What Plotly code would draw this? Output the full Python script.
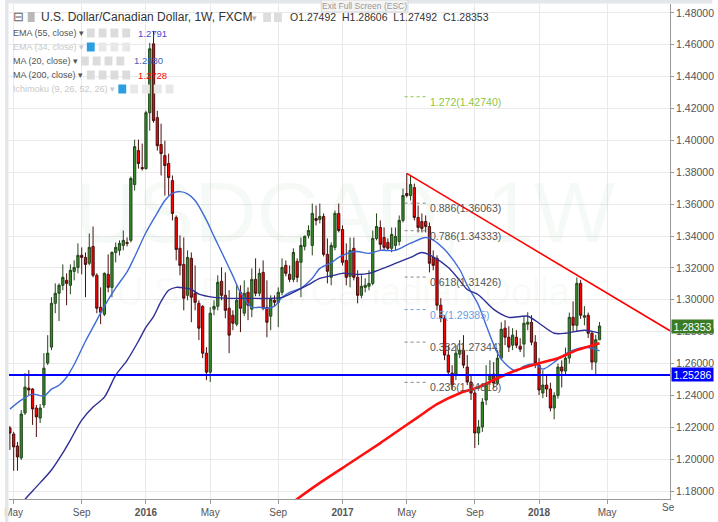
import plotly.graph_objects as go
import pandas as pd

# ---------------- data ----------------
FIRST_WEEK = "2015-04-27"

OPEN = [1.2196,1.2158,1.2083,1.2008,1.2290,1.2446,1.2440,1.2321,1.2258,1.2340,
        1.2603,1.2703,1.2978,1.3041,1.3091,1.3122,1.3091,1.3178,1.3203,1.3279,
        1.3266,1.3229,1.3335,1.3154,1.2953,1.2909,1.3160,1.3078,1.3297,1.3310,
        1.3341,1.3360,1.3373,1.3723,1.3936,1.3830,1.3823,1.4174,1.4606,1.4143,
        1.3974,1.3905,1.3855,1.3748,1.3517,1.3323,1.3222,1.3028,1.3260,1.3041,
        1.2978,1.2959,1.2665,1.2546,1.2941,1.2959,1.3116,1.3028,1.2947,1.2903,
        1.2847,1.3047,1.2916,1.3047,1.2941,1.3128,1.3041,1.3172,1.2953,1.2897,
        1.2997,1.2984,1.3047,1.3216,1.3160,1.3128,1.3241,1.3235,1.3335,1.3404,
        1.3341,1.3510,1.3504,1.3523,1.3285,1.3141,1.3329,1.3542,1.3441,1.3247,
        1.3147,1.3323,1.3141,1.3028,1.3078,1.3085,1.3103,1.3385,1.3454,1.3391,
        1.3360,1.3323,1.3341,1.3366,1.3498,1.3667,1.3654,1.3704,1.3517,1.3491,
        1.3491,1.3460,1.3266,1.3260,1.2966,1.2884,1.2653,1.2540,1.2528,1.2659,
        1.2684,1.2578,1.2484,1.2415,1.2164,1.2202,1.2371,1.2496,1.2534,1.2477,
        1.2634,1.2822,1.2765,1.2715,1.2765,1.2709,1.2722,1.2847,1.2859,1.2734,
        1.2590,1.2415,1.2465,1.2440,1.2321,1.2400,1.2578,1.2553,1.2634,1.2890,
        1.2840,1.3103,1.2890,1.2903,1.2790,1.2609,1.27492]

HIGH = [1.2208,1.2171,1.2108,1.2308,1.2540,1.2559,1.2446,1.2340,1.2346,1.2665,
        1.2778,1.3016,1.3103,1.3103,1.3222,1.3166,1.3222,1.3247,1.3354,1.3329,
        1.3297,1.3416,1.3460,1.3166,1.3078,1.3172,1.3285,1.3304,1.3360,1.3373,
        1.3435,1.3391,1.3773,1.4005,1.4005,1.3980,1.4186,1.4612,1.4687,1.4186,
        1.4105,1.3999,1.3917,1.3780,1.3529,1.3404,1.3391,1.3310,1.3297,1.3216,
        1.2997,1.2966,1.2703,1.2953,1.2997,1.3154,1.3204,1.3172,1.3060,1.2934,
        1.3091,1.3091,1.3122,1.3078,1.3197,1.3260,1.3197,1.3247,1.3122,1.3028,
        1.3028,1.3078,1.3260,1.3247,1.3216,1.3323,1.3260,1.3391,1.3404,1.3467,
        1.3604,1.3592,1.3604,1.3542,1.3385,1.3360,1.3560,1.3604,1.3467,1.3354,
        1.3391,1.3391,1.3185,1.3154,1.3135,1.3185,1.3435,1.3542,1.3498,1.3454,
        1.3385,1.3454,1.3454,1.3529,1.3698,1.3793,1.3780,1.3729,1.3592,1.3542,
        1.3529,1.3485,1.3310,1.3279,1.3010,1.2903,1.2715,1.2590,1.2715,1.2747,
        1.2778,1.2653,1.2528,1.2434,1.2246,1.2383,1.2590,1.2621,1.2609,1.2684,
        1.2859,1.2872,1.2834,1.2822,1.2809,1.2759,1.2897,1.2922,1.2903,1.2778,
        1.2634,1.2559,1.2530,1.2480,1.2420,1.2600,1.2620,1.2700,1.2920,1.2990,
        1.3140,1.3125,1.2960,1.2920,1.2800,1.2780,1.28606]

LOW = [1.2058,1.1927,1.1927,1.1995,1.2277,1.2402,1.2215,1.2139,1.2227,1.2321,
       1.2590,1.2684,1.2916,1.2866,1.3060,1.2966,1.3035,1.3122,1.3166,1.3160,
       1.3016,1.3216,1.3141,1.2916,1.2847,1.2897,1.3047,1.3016,1.3235,1.3279,
       1.3310,1.3335,1.3360,1.3686,1.3823,1.3811,1.3817,1.4061,1.4111,1.3936,
       1.3780,1.3654,1.3654,1.3498,1.3247,1.3154,1.2934,1.2997,1.2859,1.2934,
       1.2747,1.2634,1.2496,1.2484,1.2903,1.2934,1.2997,1.2884,1.2665,1.2809,
       1.2834,1.2797,1.2897,1.2872,1.2891,1.3022,1.3022,1.2934,1.2765,1.2809,
       1.2959,1.2828,1.3028,1.3147,1.3110,1.3110,1.3110,1.3016,1.3310,1.3385,
       1.3279,1.3467,1.3479,1.3272,1.3103,1.3091,1.3310,1.3423,1.3216,1.3091,
       1.3078,1.3122,1.2978,1.3010,1.3047,1.3060,1.3091,1.3373,1.3310,1.3310,
       1.3310,1.3298,1.3310,1.3341,1.3485,1.3642,1.3623,1.3498,1.3423,1.3423,
       1.3423,1.3172,1.3185,1.2934,1.2859,1.2621,1.2528,1.2434,1.2496,1.2634,
       1.2571,1.2465,1.2371,1.2070,1.2089,1.2171,1.2340,1.2465,1.2446,1.2465,
       1.2621,1.2715,1.2672,1.2684,1.2697,1.2672,1.2640,1.2809,1.2715,1.2571,
       1.2402,1.2383,1.2390,1.2300,1.2250,1.2380,1.2450,1.2530,1.2600,1.2800,
       1.2800,1.2880,1.2840,1.2760,1.2560,1.2529,1.27492]

CLOSE = [1.2164,1.2077,1.2014,1.2283,1.2452,1.2434,1.2315,1.2265,1.2321,1.2571,
         1.2665,1.2978,1.3041,1.3091,1.3141,1.3103,1.3185,1.3203,1.3279,1.3266,
         1.3222,1.3329,1.3154,1.2947,1.2922,1.3166,1.3078,1.3297,1.3329,1.3354,
         1.3373,1.3354,1.3761,1.3961,1.3855,1.3823,1.4174,1.4575,1.4124,1.3967,
         1.3917,1.3842,1.3767,1.3542,1.3316,1.3216,1.3010,1.3266,1.3016,1.2984,
         1.2822,1.2665,1.2546,1.2916,1.2959,1.3110,1.3028,1.2934,1.2778,1.2853,
         1.2997,1.2947,1.3041,1.2966,1.3128,1.3041,1.3166,1.2947,1.2859,1.3003,
         1.2984,1.3047,1.3203,1.3166,1.3128,1.3297,1.3141,1.3341,1.3398,1.3435,
         1.3542,1.3498,1.3523,1.3285,1.3179,1.3341,1.3542,1.3435,1.3235,1.3141,
         1.3310,1.3141,1.3028,1.3085,1.3091,1.3103,1.3385,1.3460,1.3348,1.3329,
         1.3323,1.3410,1.3398,1.3498,1.3654,1.3654,1.3723,1.3517,1.3454,1.3448,
         1.3460,1.3229,1.3216,1.2966,1.2884,1.2653,1.2546,1.2465,1.2665,1.2684,
         1.2590,1.2484,1.2415,1.2164,1.2202,1.2358,1.2477,1.2528,1.2477,1.2634,
         1.2815,1.2765,1.2703,1.2778,1.2715,1.2690,1.2853,1.2859,1.2734,1.2603,
         1.2434,1.2465,1.2440,1.2321,1.2400,1.2578,1.2553,1.2634,1.2890,1.2840,
         1.3103,1.2903,1.2900,1.2790,1.2609,1.27492,1.28353]

# moving averages, sampled at week numbers (0 = first candle)
MA20_WEEK = [0,3,6,9,11,13,15,17,20,22,25,28,31,33,36,39,41,43,45,47,49,52,54,56,59,61,
             64,66,68,70,72,74,77,80,82,85,87,90,92,95,98,102,106,110,112,115,119,121,
             124,126,129,131,134,136,139,141,144,146,149,152,154,156]
MA20_VAL = [1.2314,1.2370,1.2408,1.2396,1.2439,1.2464,1.2514,1.2594,1.2740,1.2828,1.2960,
            1.3075,1.3175,1.3270,1.3422,1.3545,1.3623,1.3668,1.3679,1.3665,1.3623,1.3500,
            1.3398,1.3300,1.3150,1.3045,1.2953,1.2953,1.2947,1.2960,1.3015,1.3047,1.3073,
            1.3135,1.3197,1.3232,1.3266,1.3297,1.3303,1.3291,1.3310,1.3310,1.3355,1.3391,
            1.3375,1.3315,1.3190,1.3091,1.2965,1.2840,1.2665,1.2600,1.2552,1.2583,1.2596,
            1.2565,1.2608,1.2646,1.2684,1.2702,1.2696,1.2680]

EMA55_WEEK = [3,5,7,11,14,16,19,22,25,28,31,34,36,38,40,42,44,46,48,50,54,58,63,69,72,75,
              79,82,86,88,92,95,98,102,106,109,112,116,119,121,124,128,132,137,140,144,
              147,152,156]
EMA55_VAL = [1.1720,1.1775,1.1826,1.1932,1.2039,1.2120,1.2245,1.2327,1.2389,1.2527,1.2620,
             1.2740,1.2828,1.2895,1.2990,1.3060,1.3078,1.3075,1.3065,1.3035,1.3015,1.3009,
             1.3009,1.3009,1.3015,1.3047,1.3095,1.3134,1.3155,1.3166,1.3159,1.3166,1.3191,
             1.3228,1.3266,1.3297,1.3270,1.3203,1.3122,1.3065,1.3030,1.2940,1.2890,1.2897,
             1.2853,1.2790,1.2790,1.2809,1.2791]

MA200_WEEK = [74,76,82,90,98,103,108,113,119,124,129,134,140,145,150,156]
MA200_VAL = [1.1715,1.1750,1.1851,1.1976,1.2101,1.2183,1.2264,1.2345,1.2414,1.2452,
             1.2508,1.2558,1.2602,1.2633,1.2684,1.2728]

SUPPORT = 1.25286
TREND_X = ["2017-05-01", "2018-08-31 12:00"]
TREND_Y = [1.3793, 1.2806]

FIB_RATIO = ["1.272", "0.886", "0.786", "0.618", "0.5", "0.382", "0.236"]
FIB_PRICE = [1.42740, 1.36063, 1.34333, 1.31426, 1.29385, 1.27344, 1.24818]
FIB_X = ["2017-04-27", "2017-06-08"]
FIB_LABEL_X = "2017-06-09 12:00"

TICK_DATES = ["2015-05-04", "2015-09-07", "2016-01-04", "2016-05-02", "2016-09-05",
              "2017-01-02", "2017-05-01", "2017-09-04", "2018-01-01", "2018-05-07"]
TICK_TEXT = ["May", "Sep", "<b>2016</b>", "May", "Sep", "<b>2017</b>", "May", "Sep",
             "<b>2018</b>", "May"]
Y_TICKS = [1.18, 1.20, 1.22, 1.24, 1.26, 1.28, 1.30, 1.32, 1.34, 1.36, 1.38, 1.40,
           1.42, 1.44, 1.46, 1.48]

LAST_OHLC = ["1.27492", "1.28606", "1.27492", "1.28353"]
EMA55_LAST, MA20_LAST, MA200_LAST = "1.2791", "1.2680", "1.2728"

# ---------------- layout helpers ----------------
W, H = 718, 522
ML, MR, MT, MB = 4, 43, 4, 23
PW, PH = W - ML - MR, H - MT - MB
FONT = "Liberation Sans, Arial, sans-serif"


def px(x):
    return (x - ML) / PW


def py(y):
    return (H - MB - y) / PH


dates = pd.date_range(FIRST_WEEK, periods=len(OPEN), freq="7D")

fig = go.Figure()

fig.add_trace(go.Candlestick(
    x=dates, open=OPEN, high=HIGH, low=LOW, close=CLOSE,
    increasing=dict(fillcolor="#378a2a", line=dict(color="#24461c", width=1)),
    decreasing=dict(fillcolor="#ff0000", line=dict(color="#4a1010", width=1)),
    whiskerwidth=0, showlegend=False, hoverinfo="skip"))

fig.add_trace(go.Scatter(x=[dates[i] for i in MA20_WEEK], y=MA20_VAL, mode="lines",
                         line=dict(color="#3f6ad8", width=1.4, shape="spline", smoothing=0.8),
                         showlegend=False, hoverinfo="skip"))
fig.add_trace(go.Scatter(x=[dates[i] for i in EMA55_WEEK], y=EMA55_VAL, mode="lines",
                         line=dict(color="#2e2e96", width=1.4, shape="spline", smoothing=0.8),
                         showlegend=False, hoverinfo="skip"))
fig.add_trace(go.Scatter(x=[dates[i] for i in MA200_WEEK], y=MA200_VAL, mode="lines",
                         line=dict(color="#ff1010", width=2.6, shape="spline", smoothing=0.8),
                         showlegend=False, hoverinfo="skip"))

shapes = []
annotations = []

# frame strips
shapes.append(dict(type="rect", xref="paper", yref="paper", x0=px(0), x1=px(3.5),
                   y0=py(H), y1=py(0), fillcolor="#e3e6ea", line=dict(width=0), layer="above"))
shapes.append(dict(type="rect", xref="paper", yref="paper", x0=px(0), x1=px(W),
                   y0=py(3.5), y1=py(0), fillcolor="#e3e6ea", line=dict(width=0), layer="above"))

# support line and trend line
shapes.append(dict(type="line", xref="paper", yref="y", x0=0, x1=1, y0=SUPPORT, y1=SUPPORT,
                   line=dict(color="#0000ff", width=2)))
shapes.append(dict(type="line", xref="x", yref="y", x0=TREND_X[0], x1=TREND_X[1],
                   y0=TREND_Y[0], y1=TREND_Y[1], line=dict(color="#ff0000", width=1.6)))

# fibonacci levels
for r, p in zip(FIB_RATIO, FIB_PRICE):
    col = "#8dc63f" if r == "1.272" else ("#6a9fe0" if r == "0.5" else "#555555")
    lcol = "#8dc63f" if r == "1.272" else ("#6a9fe0" if r == "0.5" else "#888888")
    shapes.append(dict(type="line", xref="x", yref="y", x0=FIB_X[0], x1=FIB_X[1], y0=p, y1=p,
                       line=dict(color=lcol, width=1, dash="dot")))
    annotations.append(dict(x=FIB_LABEL_X, y=p, xref="x", yref="y", text=f"{r}({p:.5f})",
                            showarrow=False, xanchor="left", yanchor="middle", yshift=-5,
                            font=dict(size=10.5, color=col, family=FONT)))

# watermark
annotations.append(dict(xref="paper", yref="paper", x=px(345), y=py(212), text="USDCAD, 1W",
                        showarrow=False, font=dict(size=86, color="rgba(80,150,80,0.05)", family=FONT)))
annotations.append(dict(xref="paper", yref="paper", x=px(350), y=py(292),
                        text="U.S. Dollar/Canadian Dollar", showarrow=False,
                        font=dict(size=38, color="rgba(80,150,80,0.05)", family=FONT)))

# price tags on the axis
annotations.append(dict(xref="paper", yref="y", x=1, y=CLOSE[-1], text=LAST_OHLC[3],
                        showarrow=False, xanchor="left", yanchor="middle", xshift=1,
                        bgcolor="#3b7b25", width=41, height=13, borderpad=0,
                        font=dict(size=10.5, color="white", family=FONT)))
annotations.append(dict(xref="paper", yref="y", x=1, y=SUPPORT, text=f"{SUPPORT:.5f}",
                        showarrow=False, xanchor="left", yanchor="middle", xshift=1,
                        bgcolor="#0000ff", width=41, height=13, borderpad=0,
                        font=dict(size=10.5, color="white", family=FONT)))


def txt(x, y, s, size, color, anchor="left"):
    annotations.append(dict(xref="paper", yref="paper", x=px(x), y=py(y), text=s,
                            showarrow=False, xanchor=anchor, yanchor="middle",
                            font=dict(size=size, color=color, family=FONT)))


def box(x0, y0, x1, y1, fill, line_col=None):
    shapes.append(dict(type="rect", xref="paper", yref="paper", x0=px(x0), x1=px(x1),
                       y0=py(y1), y1=py(y0), fillcolor=fill,
                       line=dict(width=1 if line_col else 0, color=line_col or fill),
                       layer="above"))


# "Exit Full Screen" tab
box(321, 0, 409, 12, "#f4f4f4", "#d8d8d8")
txt(365, 6, "Exit Full Screen (ESC)", 8.5, "#9a9a9a", "center")

# header row
txt(6, 17, "⊟", 13, "#666")
box(23, 12, 30, 22, "#b8b8b8")
txt(34, 17, "U.S. Dollar/Canadian Dollar, 1W, FXCM", 12, "#333333")
txt(249, 18, "▾", 9, "#aaaaaa")
box(262, 13, 270, 22, "#dddddd")
box(273, 13, 281, 22, "#dddddd")
txt(287, 17, f"O{LAST_OHLC[0]}  H{LAST_OHLC[1]}  L{LAST_OHLC[2]}  C{LAST_OHLC[3]}", 10.5, "#333333")

# indicator rows
rows = [
    (33, "EMA (55, close) ▾", "#555555", 83, None, EMA55_LAST, 133, "#4848cc"),
    (47, "EMA (34, close) ▾", "#c8c8c8", 83, 0, None, None, None),
    (61, "MA (20, close) ▾", "#555555", 77, None, MA20_LAST, 129, "#3a5fc0"),
    (75, "MA (200, close) ▾", "#555555", 83, None, MA200_LAST, 133, "#ff0000"),
    (89, "Ichimoku (9, 26, 52, 26) ▾", "#c8c8c8", 115, 0, None, None, None),
]
for yy, label, col, ix, blue_idx, val, vx, vcol in rows:
    txt(6, yy, label, 9, col)
    for k in range(4 if blue_idx is None or ix < 100 else 5):
        x0 = ix + 12 * k
        if blue_idx is not None and k == blue_idx:
            box(x0, yy - 4.5, x0 + 8, yy + 4.5, "#2a9fe0")
        else:
            box(x0, yy - 4.5, x0 + 8, yy + 4.5, "#dcdcdc" if blue_idx is None else "#e8e8e8")
    if val:
        txt(vx, yy, val, 9.5, vcol)

# clipped "Sep" label at the right edge
txt(665, 508, "Se", 10, "#555555", "left")

fig.update_layout(
    width=W, height=H,
    margin=dict(l=ML, r=MR, t=MT, b=MB),
    paper_bgcolor="white", plot_bgcolor="white",
    hovermode=False, showlegend=False, boxgap=0.15,
    shapes=shapes, annotations=annotations,
    font=dict(family=FONT),
    xaxis=dict(type="date", range=["2015-04-25 08:00", "2018-08-31 12:00"],
               rangeslider=dict(visible=False),
               tickvals=TICK_DATES, ticktext=TICK_TEXT, ticklabeloverflow="allow",
               tickfont=dict(size=10, color="#555555", family=FONT),
               showgrid=True, gridcolor="#e9e9e9", gridwidth=1,
               showline=True, linecolor="#9a9a9a", linewidth=1,
               ticks="outside", ticklen=4, tickcolor="#9a9a9a", zeroline=False),
    yaxis=dict(side="right", range=[1.1750, 1.4856],
               tickvals=Y_TICKS, ticktext=[f"{v:.5f}" for v in Y_TICKS],
               tickfont=dict(size=10.5, color="#555555", family=FONT),
               showgrid=True, gridcolor="#e9e9e9", gridwidth=1,
               showline=True, linecolor="#9a9a9a", linewidth=1,
               ticks="outside", ticklen=3, tickcolor="#9a9a9a", zeroline=False),
)

fig.write_html("out.html", config={"displayModeBar": False},
               post_script="document.body.style.margin='0';document.body.style.overflow='hidden';")
